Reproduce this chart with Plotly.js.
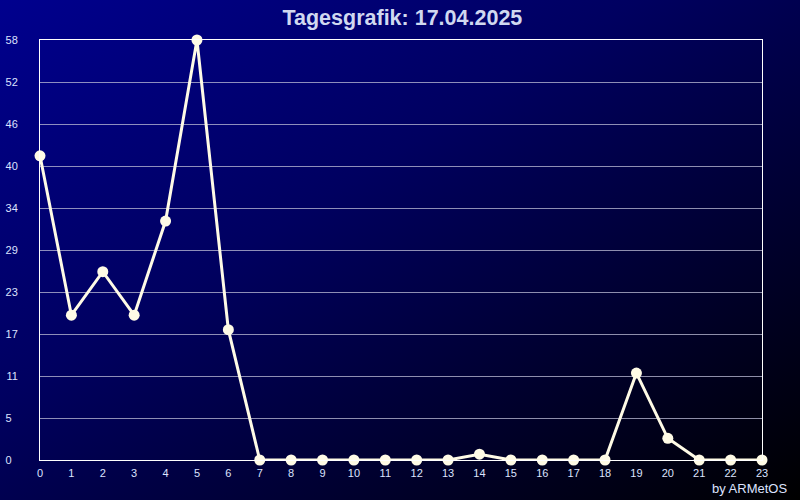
<!DOCTYPE html>
<html><head><meta charset="utf-8">
<script src="https://cdn.plot.ly/plotly-3.0.1.min.js"></script>
<style>
html,body{margin:0;padding:0;}
#chart{width:800px;height:500px;background:linear-gradient(to bottom right,#00008e 0%,#000060 40%,#000000 100%);}
</style></head><body>
<div id="chart"></div>
<script>
const hours = [0,1,2,3,4,5,6,7,8,9,10,11,12,13,14,15,16,17,18,19,20,21,22,23];
const values = [42,20,26,20,33,58,18,0,0,0,0,0,0,0,0.8,0,0,0,0,12,3,0,0,0];
const yTickVals = [0,5.8,11.6,17.4,23.2,29,34.8,40.6,46.4,52.2,58];
const yTickText = ["0\u2007","5\u2007","11","17","23","29","34","40","46","52","58"];
const titleText = "Tagesgrafik: 17.04.2025";
const creditText = "by ARMetOS";

const trace = {
  x: hours, y: values, type: 'scatter', mode: 'lines+markers',
  line: {color: '#fffbe6', width: 3},
  marker: {color: '#fffbe6', size: 11},
  cliponaxis: false, hoverinfo: 'skip'
};
const layout = {
  width: 800, height: 500,
  paper_bgcolor: 'rgba(0,0,0,0)', plot_bgcolor: 'rgba(0,0,0,0)',
  margin: {l: 40, r: 38, t: 40, b: 40},
  showlegend: false,
  title: {text: titleText, x: 0.503, xanchor: 'center', y: 0.965, yanchor: 'middle',
    font: {family: 'Liberation Sans, Arial', size: 21.5, color: '#d0d8f0', weight: 'bold'}},
  xaxis: {range: [0, 23], tickvals: hours, ticktext: hours.map(String),
    showgrid: false, zeroline: false, showline: true, linecolor: '#ffffff', linewidth: 1, mirror: true,
    ticks: '', ticklabelstandoff: 3,
    tickfont: {family: 'Liberation Sans, Arial', size: 11, color: '#dde3ff'}},
  yaxis: {range: [0, 58], tickvals: yTickVals, ticktext: yTickText,
    showgrid: true, gridcolor: 'rgba(190,190,215,0.75)', gridwidth: 1,
    zeroline: false, showline: true, linecolor: '#ffffff', linewidth: 1, mirror: true,
    ticks: '', ticklabelstandoff: 19,
    tickfont: {family: 'Liberation Sans, Arial', size: 11, color: '#dde3ff'}},
  annotations: [{text: creditText, xref: 'paper', yref: 'paper', x: 1.0374, y: -0.0667,
    xanchor: 'right', yanchor: 'middle', showarrow: false,
    font: {family: 'Liberation Sans, Arial', size: 13, color: '#dde3ff'}}]
};
Plotly.newPlot('chart', [trace], layout, {displayModeBar: false, staticPlot: true});
</script>
</body></html>
